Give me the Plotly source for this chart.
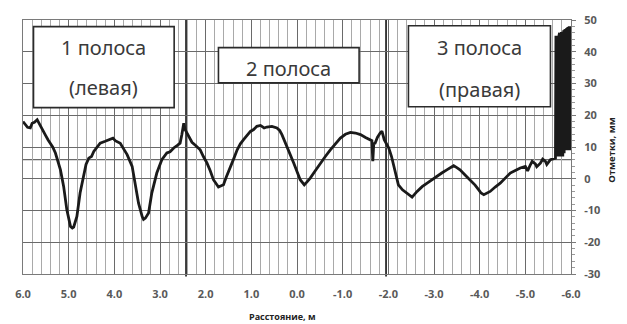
import plotly.graph_objects as go

# Distance across the road, m (axis reversed: 6.0 on the left, -6.0 on the right)
distance_m = [
    6.00, 5.95, 5.90, 5.84, 5.80, 5.75, 5.69, 5.65, 5.60, 5.55, 5.50, 5.45, 5.40, 5.35,
    5.29, 5.24, 5.18, 5.11, 5.04, 4.96, 4.92, 4.89, 4.82, 4.75, 4.67, 4.62, 4.56, 4.50,
    4.45, 4.38, 4.31, 4.20, 4.09, 4.03, 3.98, 3.87, 3.80, 3.72, 3.61, 3.54, 3.47, 3.39,
    3.36, 3.32, 3.25, 3.18, 3.07, 2.96, 2.85, 2.78, 2.70, 2.62, 2.56, 2.52, 2.48, 2.45,
    2.41, 2.36, 2.30, 2.22, 2.12, 2.05, 1.97, 1.90, 1.83, 1.72, 1.61, 1.55, 1.46, 1.38,
    1.31, 1.24, 1.17, 1.10, 1.02, 0.95, 0.88, 0.80, 0.72, 0.66, 0.55, 0.44, 0.38, 0.33,
    0.22, 0.07, -0.07, -0.16, -0.22, -0.29, -0.40, -0.51, -0.62, -0.73, -0.84, -0.95,
    -1.06, -1.17, -1.28, -1.39, -1.50, -1.61, -1.64, -1.66, -1.68, -1.71, -1.76, -1.82,
    -1.86, -1.91, -1.96, -2.01, -2.07, -2.12, -2.17, -2.22, -2.31, -2.41, -2.52, -2.63,
    -2.74, -2.85, -2.96, -3.06, -3.17, -3.28, -3.43, -3.50, -3.57, -3.68, -3.79, -3.90,
    -3.98, -4.03, -4.09, -4.15, -4.23, -4.34, -4.45, -4.56, -4.67, -4.78, -4.89, -5.00,
    -5.05, -5.11, -5.15, -5.22, -5.25, -5.33, -5.38, -5.44, -5.47, -5.55, -5.62, -5.66,
    -5.67, -5.68, -5.69, -5.70, -5.71, -5.72, -5.73,
    -5.75, -5.76, -5.77, -5.78, -5.79, -5.80, -5.81, -5.82,
    -5.84, -5.85, -5.86, -5.87, -5.88, -5.89, -5.90, -5.91, -5.92, -5.93, -5.94, -5.95,
    -5.96, -5.97, -5.98,
]

# Surface elevation marks, mm
elevation_mm = [
    18.0, 17.0, 16.2, 16.0, 17.5, 17.8, 18.6, 17.5, 16.0, 14.9, 13.5, 12.2, 11.2, 10.0,
    8.1, 6.0, 2.8, -2.4, -9.8, -15.0, -15.5, -15.2, -11.9, -4.5, 1.8, 4.5, 6.5, 7.0,
    8.6, 10.0, 11.2, 11.8, 12.3, 12.8, 12.0, 11.2, 9.5, 7.6, 3.9, -1.4, -7.7, -11.9,
    -12.8, -12.4, -10.8, -4.5, 1.8, 6.0, 8.1, 8.5, 9.7, 10.5, 11.2, 14.0, 17.5, 15.5,
    14.4, 13.0, 11.5, 10.5, 9.1, 7.0, 4.9, 2.5, -0.3, -2.6, -1.9, 0.5, 3.4, 6.5,
    9.1, 11.0, 12.3, 13.5, 14.9, 15.5, 16.5, 16.8, 16.0, 16.3, 16.5, 16.0, 15.2, 13.9,
    10.2, 4.9, -0.3, -1.9, -1.0, 0.2, 2.5, 4.9, 7.0, 9.1, 11.0, 12.8,
    14.0, 14.6, 14.4, 13.9, 13.0, 12.3, 12.0, 5.5, 11.0, 11.2, 13.0, 14.4,
    15.0, 12.3, 11.0, 9.7, 7.0, 3.9, 1.8, -1.9, -3.5, -4.5, -5.8, -4.0,
    -2.5, -1.4, -0.2, 0.7, 1.8, 2.8, 4.1, 3.5, 2.8, 1.2, -0.3, -2.0,
    -3.5, -4.5, -5.0, -4.5, -4.0, -2.6, -1.4, 0.2, 1.8, 2.6, 3.4, 3.9,
    2.5, 4.4, 5.5, 4.7, 3.8, 4.9, 6.2, 5.5, 4.5, 6.0, 6.3, 6.5,
    45.0, 7.0, 44.5, 7.0, 44.8, 7.0, 44.7,
    46.0, 7.0, 46.0, 8.0, 46.2, 7.0, 46.3, 7.0,
    46.8, 8.0, 47.0, 9.0, 47.2, 9.0, 47.4, 9.0, 47.6, 9.0, 47.8, 9.0,
    48.0, 9.0, 48.0,
]

x_tick_vals = [6, 5, 4, 3, 2, 1, 0, -1, -2, -3, -4, -5, -6]
x_tick_text = ["6.0", "5.0", "4.0", "3.0", "2.0", "1.0", "0.0",
               "-1.0", "-2.0", "-3.0", "-4.0", "-5.0", "-6.0"]
y_tick_vals = [-30, -20, -10, 0, 10, 20, 30, 40, 50]
y_tick_text = ["-30", "-20", "-10", "0", "10", "20", "30", "40", "50"]
lane_boundaries_m = [2.43, -1.95]
reference_level_mm = 6

x_title = "Расстояние, м"
y_title = "Отметки, мм"

lane_labels = [
    dict(text="1 полоса", x=4.23, y=41.3),
    dict(text="(левая)", x=4.23, y=28.7),
    dict(text="2 полоса", x=0.18, y=34.6),
    dict(text="3 полоса", x=-3.99, y=41.3),
    dict(text="(правая)", x=-3.99, y=28.0),
]
lane_boxes = [
    dict(x0=5.77, x1=2.69, y0=22.4, y1=47.9),
    dict(x0=1.72, x1=-1.36, y0=30.2, y1=41.3),
    dict(x0=-2.44, x1=-5.55, y0=22.7, y1=48.2),
]

fig = go.Figure()
fig.add_trace(go.Scatter(
    x=distance_m, y=elevation_mm, mode="lines",
    line=dict(color="#1a1a1a", width=2.8),
    showlegend=False, hoverinfo="skip",
))

shapes = []
shapes.append(dict(type="line", xref="paper", yref="y", x0=0, x1=1,
                   y0=reference_level_mm, y1=reference_level_mm,
                   line=dict(color="#6a6a6a", width=1.2), layer="below"))
for b in lane_boundaries_m:
    shapes.append(dict(type="line", xref="x", yref="paper", x0=b, x1=b, y0=-0.01, y1=1,
                       line=dict(color="#2b2b2b", width=1.8), layer="below"))
for bx in lane_boxes:
    shapes.append(dict(type="rect", xref="x", yref="y", **bx,
                       fillcolor="white", line=dict(color="#2b2b2b", width=1.6),
                       layer="above"))

annotations = []
for lab in lane_labels:
    annotations.append(dict(text=lab["text"], x=lab["x"], y=lab["y"], xref="x", yref="y",
                            showarrow=False,
                            font=dict(family="Noto Sans", size=20, color="#3a3a3a")))
annotations.append(dict(text="<b>" + x_title + "</b>", xref="paper", yref="paper",
                        x=0.474, y=-0.168, yanchor="middle", showarrow=False,
                        font=dict(family="Open Sans", size=9, color="#222222")))
annotations.append(dict(text="<b>" + y_title + "</b>", xref="paper", yref="paper",
                        x=1.089, y=0.49, textangle=-90, showarrow=False,
                        font=dict(family="Open Sans", size=9.5, color="#222222")))

# The page body adds an 8px offset, so the figure is sized 8px smaller
fig.update_layout(
    width=619, height=316,
    margin=dict(l=15, r=56, t=12, b=50),
    paper_bgcolor="white", plot_bgcolor="white",
    shapes=shapes, annotations=annotations,
    xaxis=dict(
        range=[6, -6], tickvals=x_tick_vals, ticktext=x_tick_text,
        automargin=False,
        showgrid=True, gridcolor="#6a6a6a", gridwidth=1,
        minor=dict(dtick=0.2, tick0=0, showgrid=True, gridcolor="#a9a9a9", gridwidth=1),
        showline=True, linecolor="#7a7a7a", linewidth=1, mirror=True,
        zeroline=False, ticks="", ticklabelstandoff=10,
        tickfont=dict(family="Open Sans", size=11, color="#595959", weight="bold"),
    ),
    yaxis=dict(
        range=[-30, 50], tickvals=y_tick_vals, ticktext=y_tick_text, side="right",
        automargin=False,
        showgrid=True, gridcolor="#6a6a6a", gridwidth=1.2,
        showline=True, linecolor="#7a7a7a", linewidth=1, mirror=True,
        zeroline=False, ticks="outside", ticklen=4, tickcolor="#7a7a7a",
        minor=dict(dtick=2, tick0=0, ticks="outside", ticklen=3, tickcolor="#9a9a9a",
                   showgrid=False),
        ticklabelstandoff=6,
        tickfont=dict(family="Open Sans", size=11, color="#595959", weight="bold"),
    ),
)

fig.write_html("out.html")
